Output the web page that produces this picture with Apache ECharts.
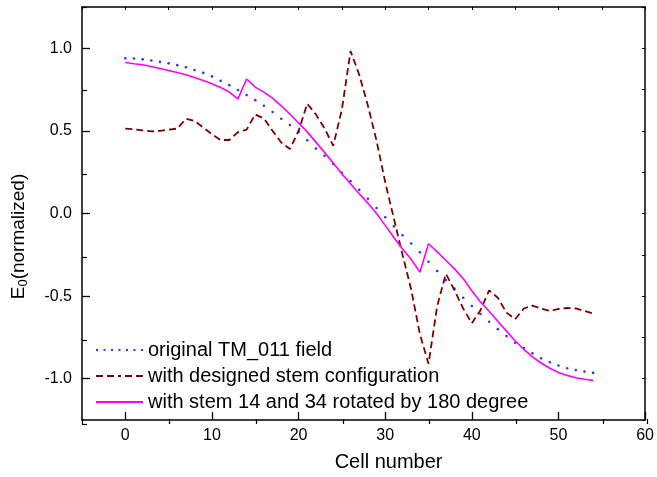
<!DOCTYPE html>
<html>
<head>
<meta charset="utf-8">
<script src="https://cdn.jsdelivr.net/npm/echarts@6/dist/echarts.min.js"></script>
<style>
  html, body { margin: 0; padding: 0; background: #fff; }
  #chart { width: 657px; height: 477px; }
</style>
</head>
<body>
<div id="chart"></div>
<script>
// Cell index along the structure
const cells = Array.from({ length: 55 }, (_, i) => i);

// Normalized on-axis field E0 per cell
const originalField = [
  0.940, 0.938, 0.933, 0.926, 0.918, 0.909, 0.898, 0.885, 0.869, 0.851,
  0.830, 0.803, 0.777, 0.748, 0.717, 0.686, 0.652, 0.614, 0.574, 0.535,
  0.494, 0.443, 0.393, 0.350, 0.300, 0.247, 0.197, 0.143, 0.089, 0.033,
  -0.023, -0.077, -0.132, -0.182, -0.235, -0.292, -0.348, -0.403, -0.455, -0.510,
  -0.560, -0.608, -0.655, -0.700, -0.742, -0.782, -0.814, -0.846, -0.876, -0.900,
  -0.920, -0.937, -0.948, -0.957, -0.965
];

const designedStem = [
  0.514, 0.510, 0.503, 0.497, 0.500, 0.507, 0.514, 0.574, 0.560, 0.520,
  0.480, 0.445, 0.445, 0.492, 0.508, 0.600, 0.575, 0.500, 0.430, 0.390,
  0.500, 0.665, 0.600, 0.515, 0.410, 0.630, 0.984, 0.840, 0.654, 0.440,
  0.190, -0.030, -0.250, -0.460, -0.730, -0.910, -0.560, -0.365, -0.465, -0.575,
  -0.665, -0.585, -0.465, -0.510, -0.600, -0.640, -0.575, -0.558, -0.575, -0.590,
  -0.578, -0.572, -0.575, -0.590, -0.605
];

const rotatedStems = [
  0.914, 0.906, 0.900, 0.890, 0.878, 0.866, 0.853, 0.840, 0.823, 0.805,
  0.785, 0.763, 0.735, 0.694, 0.814, 0.765, 0.735, 0.698, 0.652, 0.602,
  0.548, 0.494, 0.432, 0.370, 0.305, 0.240, 0.180, 0.120, 0.063, 0.000,
  -0.072, -0.145, -0.215, -0.277, -0.355, -0.183, -0.232, -0.283, -0.335, -0.393,
  -0.468, -0.535, -0.592, -0.652, -0.712, -0.770, -0.822, -0.868, -0.905, -0.937,
  -0.962, -0.980, -0.994, -1.003, -1.010
];

const seriesNames = [
  'original TM_011 field',
  'with designed stem configuration',
  'with stem 14 and 34 rotated by 180 degree'
];

// Tick positions
const xMajorTicks = [0, 10, 20, 30, 40, 50, 60];
const yMajorTicks = [-1.0, -0.5, 0.0, 0.5, 1.0];

const pairs = vals => cells.map((c, i) => [c, vals[i]]);

const FONT = '"Liberation Sans", Arial, sans-serif';
const AXIS_COLOR = '#000';
const gridBox = { left: 82, top: 7, right: 10, bottom: 53 };

// Legend swatches: dotted, dashed, solid
const dotIcon = 'path://M0,0h2v2h-2z M7.5,0h2v2h-2z M15,0h2v2h-2z M22.5,0h2v2h-2z M30,0h2v2h-2z M37.5,0h2v2h-2z M45,0h2v2h-2z';
const dashIcon = 'path://M0,0h7v2h-7z M11,0h7v2h-7z M22,0h3v2h-3z M29,0h7v2h-7z M40,0h7v2h-7z';
const solidIcon = 'path://M0,0h47v2h-47z';

const legendBase = {
  orient: 'vertical',
  left: 96,
  padding: 0,
  itemWidth: 47,
  itemHeight: 20,
  selectedMode: false,
  textStyle: { fontFamily: FONT, fontSize: 20, color: '#000' }
};

const frameLine = { show: true, onZero: false, lineStyle: { color: AXIS_COLOR, width: 1.5 } };

const chart = echarts.init(document.getElementById('chart'), null, { renderer: 'canvas' });

chart.setOption({
  animation: false,
  backgroundColor: '#fff',
  grid: [
    Object.assign({}, gridBox),
    Object.assign({}, gridBox)
  ],
  legend: [
    Object.assign({}, legendBase, { top: 340, data: [{ name: seriesNames[0], icon: dotIcon }] }),
    Object.assign({}, legendBase, { top: 366, data: [{ name: seriesNames[1], icon: dashIcon }] }),
    Object.assign({}, legendBase, { top: 392, data: [{ name: seriesNames[2], icon: solidIcon }] })
  ],
  xAxis: [
    {
      gridIndex: 0, type: 'value', position: 'bottom', min: -5, max: 60,
      axisLine: frameLine,
      axisTick: { show: true, inside: true, length: 8, customValues: xMajorTicks, lineStyle: { color: AXIS_COLOR, width: 1.3 } },
      axisLabel: { show: true, customValues: xMajorTicks, margin: 8, fontFamily: FONT, fontSize: 16, color: '#000' },
      splitLine: { show: false },
      name: 'Cell number', nameLocation: 'middle', nameGap: 32,
      nameTextStyle: { fontFamily: FONT, fontSize: 20, color: '#000', padding: [0, 0, 0, 50] }
    },
    {
      gridIndex: 0, type: 'value', position: 'top', min: -5, max: 60, interval: 5,
      axisLine: frameLine,
      axisTick: { show: true, inside: true, length: 3, lineStyle: { color: AXIS_COLOR, width: 1 } },
      axisLabel: { show: false },
      splitLine: { show: false }
    },
    {
      // minor ticks along the bottom edge
      gridIndex: 1, type: 'value', position: 'bottom', min: -5, max: 60, interval: 10,
      axisLine: { show: false, onZero: false },
      axisTick: { show: true, inside: true, length: 5, lineStyle: { color: AXIS_COLOR, width: 1.2 } },
      axisLabel: { show: false },
      splitLine: { show: false }
    }
  ],
  yAxis: [
    {
      gridIndex: 0, type: 'value', position: 'left', min: -1.25, max: 1.25,
      axisLine: frameLine,
      axisTick: { show: true, inside: true, length: 8, customValues: yMajorTicks, lineStyle: { color: AXIS_COLOR, width: 1.3 } },
      axisLabel: {
        show: true, customValues: yMajorTicks, margin: 10, fontFamily: FONT, fontSize: 16, color: '#000',
        formatter: v => v.toFixed(1)
      },
      splitLine: { show: false },
      name: 'E{sub|0}(normalized)', nameLocation: 'middle', nameGap: 52, nameRotate: 90,
      nameTextStyle: {
        fontFamily: FONT, fontSize: 19, color: '#000', padding: [0, 46, 0, 0],
        rich: { sub: { fontFamily: FONT, fontSize: 13, color: '#000', padding: [9, 0, 0, 0] } }
      }
    },
    {
      gridIndex: 0, type: 'value', position: 'right', min: -1.25, max: 1.25, interval: 0.25,
      axisLine: frameLine,
      axisTick: { show: true, inside: true, length: 3, lineStyle: { color: AXIS_COLOR, width: 1 } },
      axisLabel: { show: false },
      splitLine: { show: false }
    },
    {
      // minor ticks along the left edge
      gridIndex: 1, type: 'value', position: 'left', min: -1.25, max: 1.25, interval: 0.5,
      axisLine: { show: false, onZero: false },
      axisTick: { show: true, inside: true, length: 5, lineStyle: { color: AXIS_COLOR, width: 1.2 } },
      axisLabel: { show: false },
      splitLine: { show: false }
    }
  ],
  series: [
    {
      name: seriesNames[0],
      type: 'scatter',
      xAxisIndex: 0, yAxisIndex: 0,
      data: pairs(originalField),
      symbol: 'circle',
      symbolSize: 2.6,
      itemStyle: { color: '#0000ff' },
      z: 3
    },
    {
      name: seriesNames[1],
      type: 'line',
      xAxisIndex: 0, yAxisIndex: 0,
      data: pairs(designedStem),
      symbol: 'none',
      smooth: false,
      itemStyle: { color: '#800000' },
      lineStyle: { color: '#800000', width: 1.8, type: [7, 4] },
      z: 2
    },
    {
      name: seriesNames[2],
      type: 'line',
      xAxisIndex: 0, yAxisIndex: 0,
      data: pairs(rotatedStems),
      symbol: 'none',
      smooth: false,
      itemStyle: { color: '#ff00ff' },
      lineStyle: { color: '#ff00ff', width: 1.6 },
      z: 4
    }
  ]
});
</script>
</body>
</html>
